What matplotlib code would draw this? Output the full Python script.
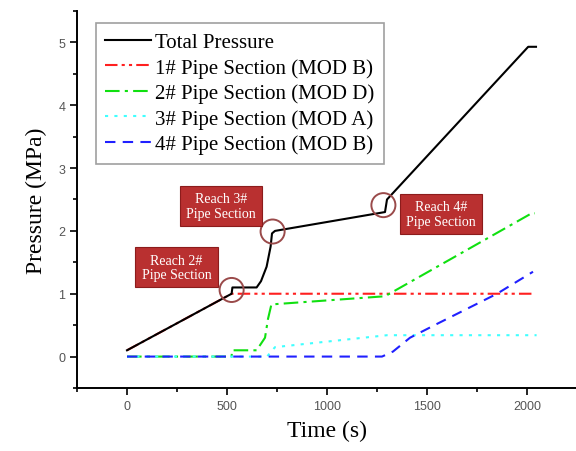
import numpy as np
import matplotlib
matplotlib.use("Agg")
import matplotlib.pyplot as plt
from matplotlib.ticker import MultipleLocator

# data
t_total = [0, 523, 527, 648, 670, 698, 718, 725, 740, 1290, 1300, 2006, 2045]
p_total = [0.1, 1.0, 1.1, 1.1, 1.2, 1.43, 1.75, 1.96, 2.0, 2.3, 2.5, 4.93, 4.93]

t_sec1 = [0, 523, 2028]
p_sec1 = [0.1, 1.0, 1.0]

t_sec2 = [0, 523, 525, 648, 690, 705, 722, 1290, 2023, 2040]
p_sec2 = [0.0, 0.0, 0.1, 0.1, 0.3, 0.6, 0.83, 0.96, 2.28, 2.28]

t_sec3 = [0, 700, 740, 1300, 2048]
p_sec3 = [0.0, 0.0, 0.15, 0.34, 0.34]

t_sec4 = [0, 1275, 1330, 1415, 1550, 1850, 2030]
p_sec4 = [0.0, 0.0, 0.08, 0.3, 0.52, 1.0, 1.35]

labels = ["Total Pressure",
          "1# Pipe Section (MOD B)",
          "2# Pipe Section (MOD D)",
          "3# Pipe Section (MOD A)",
          "4# Pipe Section (MOD B)"]

# annotation boxes: text, box centre, marked point
notes = ["Reach 2#\nPipe Section", "Reach 3#\nPipe Section", "Reach 4#\nPipe Section"]
note_xy = [(248, 1.42), (470, 2.40), (1570, 2.27)]
mark_xy = [(523, 1.06), (728, 1.99), (1282, 2.41)]

serif = "Liberation Serif"
sans = "Liberation Sans"

fig = plt.figure(figsize=(5.76, 4.52), dpi=100)
ax = fig.add_axes([0.1337, 0.1394, 0.8663, 0.8341])

ax.plot(t_total, p_total, color="black", lw=1.5, label=labels[0], zorder=5)
ax.plot(t_sec1, p_sec1, color="#ff2020", lw=1.5, dashes=(6, 2, 1.5, 2, 1.5, 2), label=labels[1])
ax.plot(t_sec2, p_sec2, color="#10e010", lw=1.5, dashes=(7, 2.5, 1.5, 2.5), label=labels[2])
ax.plot(t_sec3, p_sec3, color="#40ffff", lw=1.5, dashes=(1.5, 3), label=labels[3])
ax.plot(t_sec4, p_sec4, color="#2020ff", lw=1.5, dashes=(5, 3.5), label=labels[4])

ax.set_xlim(-250, 2245)
ax.set_ylim(-0.5, 5.5)
ax.xaxis.set_major_locator(MultipleLocator(500))
ax.xaxis.set_minor_locator(MultipleLocator(250))
ax.yaxis.set_major_locator(MultipleLocator(1))
ax.yaxis.set_minor_locator(MultipleLocator(0.5))

for s in ["top", "right"]:
    ax.spines[s].set_visible(False)
for s in ["left", "bottom"]:
    ax.spines[s].set_linewidth(1.4)

ax.tick_params(which="major", direction="out", length=5, width=1.2,
               labelsize=9, labelcolor="#555555")
ax.tick_params(which="minor", direction="out", length=3, width=1.2)
for lab in ax.get_xticklabels() + ax.get_yticklabels():
    lab.set_family(sans)

ax.set_xlabel("Time (s)", family=serif, fontsize=17, labelpad=6)
ax.set_ylabel("Pressure (MPa)", family=serif, fontsize=17, labelpad=8)

leg = ax.legend(loc="upper left", bbox_to_anchor=(0.038, 0.968),
                prop={"family": serif, "size": 15}, frameon=True, fancybox=False,
                handlelength=2.2, handletextpad=0.2, labelspacing=0.28,
                borderpad=0.45, borderaxespad=0)
leg.get_frame().set_edgecolor("#888888")
leg.get_frame().set_linewidth(1.2)

for txt, (bx, by) in zip(notes, note_xy):
    ax.text(bx, by, txt, ha="center", va="center", color="white",
            family=serif, fontsize=10, linespacing=1.15, zorder=7,
            bbox=dict(boxstyle="square,pad=0.45", facecolor="#b93030",
                      edgecolor="#8c1c1c", linewidth=0.8))

mx = [m[0] for m in mark_xy]
my = [m[1] for m in mark_xy]
ax.scatter(mx, my, s=300, facecolors="none", edgecolors="#9a4a4a",
           linewidths=1.4, zorder=6)

fig.savefig("out.png", dpi=100)
